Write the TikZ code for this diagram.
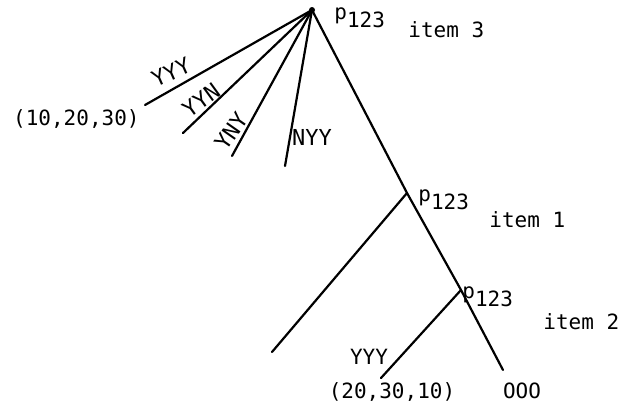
\documentclass[tikz,border=0pt]{standalone}
\usepackage{fontspec}
\setmonofont{DejaVu Sans Mono}
\tikzset{
    branch/.style={line width=1.1pt, line cap=round},
    tag/.style={font=\ttfamily\fontsize{10.5}{12}\selectfont, inner sep=0pt},
    hand/.style={font=\ttfamily\fontsize{11}{12}\selectfont, inner sep=0pt},
}
\newcommand{\pname}{p\raisebox{-0.7ex}{123}}

\begin{document}
\begin{tikzpicture}[x=0.5pt, y=-0.5pt]
    \useasboundingbox (0,0) rectangle (627,414);

    % vertices of the tree
    \coordinate (top) at (312,10);
    \coordinate (mid) at (407,193);
    \coordinate (low) at (461,290);
    \coordinate (end) at (503,370);
    \coordinate (yyy) at (145,105);
    \coordinate (yyn) at (183,133);
    \coordinate (yny) at (232,156);
    \coordinate (nyy) at (285,166);
    \coordinate (left) at (272,352);
    \coordinate (leaf) at (381,378);

    \draw[branch] (top) -- (mid) -- (low) -- (end);
    \draw[branch] (top) -- (yyy);
    \draw[branch] (top) -- (yyn);
    \draw[branch] (top) -- (yny);
    \draw[branch] (top) -- (nyy);
    \draw[branch] (mid) -- (left);
    \draw[branch] (low) -- (leaf);
    \fill (top) circle (3);

    \node[tag, anchor=west] (ptop) at (334,18) {\pname};
    \node[tag, anchor=west] (item3) at (408,30) {item 3};
    \node[tag, anchor=west] (pmid) at (418,200) {\pname};
    \node[tag, anchor=west] (item1) at (489,220) {item 1};
    \node[tag, anchor=west] (plow) at (462,297) {\pname};
    \node[tag, anchor=west] (item2) at (543,322) {item 2};

    \node[tag, anchor=east] (first) at (140,119) {(10,20,30)};
    \node[tag] (second) at (392,392) {(20,30,10)};
    \node[tag] (zero) at (522,391) {OOO};
    \node[tag] (yyylow) at (369,357) {YYY};

    \node[hand, rotate=24] (lyyy) at (171,72) {YYY};
    \node[hand, rotate=36] (lyyn) at (201,100) {YYN};
    \node[hand, rotate=55] (lyny) at (231,131) {YNY};
    \node[hand] (lnyy) at (312,137) {NYY};

\end{tikzpicture}
\end{document}
